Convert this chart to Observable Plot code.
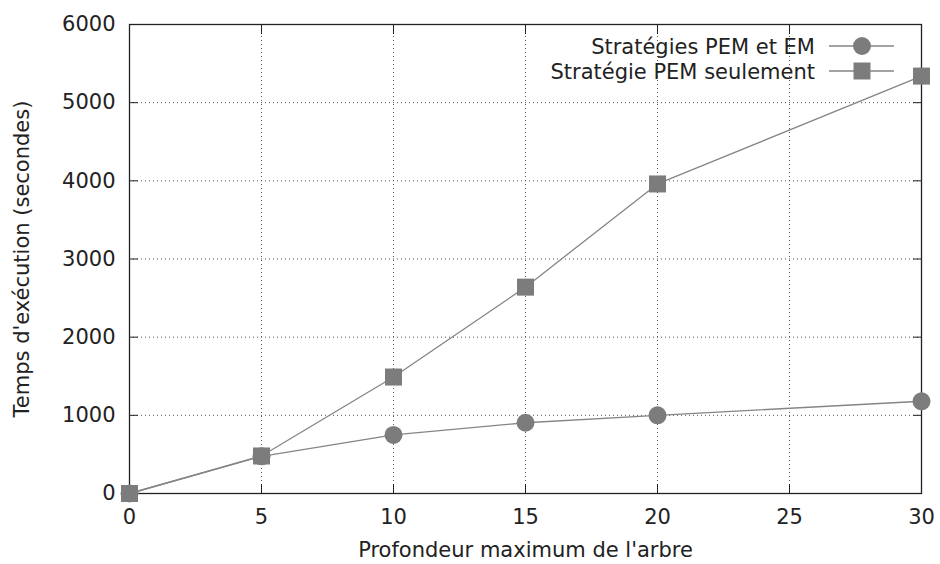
<!DOCTYPE html>
<html>
<head>
<meta charset="utf-8">
<script src="https://cdn.jsdelivr.net/npm/d3@7"></script>
<script src="https://cdn.jsdelivr.net/npm/@observablehq/plot@0.6"></script>
<style>
  body { margin: 0; background: #fff; }
  #chart svg { display: block; }
</style>
</head>
<body>
<div id="chart"></div>
<script>
// ---- Data ----
const depth = [0, 5, 10, 15, 20, 30];
const pemEm = [0, 475, 750, 905, 1000, 1180];
const pemOnly = [0, 480, 1490, 2640, 3960, 5340];
const seriesNames = ["Stratégies PEM et EM", "Stratégie PEM seulement"];
const seriesSymbols = ["circle", "square"];
const xTicks = [0, 5, 10, 15, 20, 25, 30];
const yTicks = [0, 1000, 2000, 3000, 4000, 5000, 6000];
const xLabel = "Profondeur maximum de l'arbre";
const yLabel = "Temps d'exécution (secondes)";

// ---- Build table ----
const rows = [];
depth.forEach((d, i) => rows.push({ depth: d, time: pemEm[i], series: seriesNames[0] }));
depth.forEach((d, i) => rows.push({ depth: d, time: pemOnly[i], series: seriesNames[1] }));
const rowsA = rows.filter(r => r.series === seriesNames[0]);
const rowsB = rows.filter(r => r.series === seriesNames[1]);

const lineColor = "#858585";
const markColor = "#7c7c7c";
const textColor = "#222";
const fontSize = 21;

// Legend as a custom render mark (pixel layout inside the frame, top-right)
function legendMark(index, scales, values, dims) {
  const g = d3.create("svg:g")
    .attr("font-family", "'DejaVu Sans', sans-serif")
    .attr("font-size", fontSize)
    .attr("fill", textColor);
  const right = dims.width - dims.marginRight;
  const top = dims.marginTop;
  seriesNames.forEach((name, i) => {
    const y = top + 22 + i * 25;
    g.append("text")
      .attr("x", right - 106).attr("y", y).attr("dy", "0.36em")
      .attr("text-anchor", "end").text(name);
    g.append("line")
      .attr("x1", right - 92).attr("x2", right - 27)
      .attr("y1", y).attr("y2", y)
      .attr("stroke", lineColor).attr("stroke-width", 1.3);
    const sym = d3.symbol(seriesSymbols[i] === "circle" ? d3.symbolCircle : d3.symbolSquare,
      seriesSymbols[i] === "circle" ? Math.PI * 9 * 9 : 17 * 17)();
    g.append("path").attr("d", sym)
      .attr("transform", `translate(${right - 59},${y})`)
      .attr("fill", markColor);
  });
  return g.node();
}

const fmt = d => String(d);

const chart = Plot.plot({
  width: 940,
  height: 564,
  marginLeft: 129,
  marginRight: 19,
  marginTop: 24,
  marginBottom: 71,
  style: { fontFamily: "'DejaVu Sans', sans-serif", fontSize: fontSize + "px", color: textColor, background: "#fff" },
  x: { domain: [0, 30], ticks: xTicks },
  y: { domain: [0, 6000], ticks: yTicks },
  marks: [
    Plot.gridX(xTicks, { stroke: "#555", strokeOpacity: 1, strokeDasharray: "1,3", strokeWidth: 1 }),
    Plot.gridY(yTicks, { stroke: "#555", strokeOpacity: 1, strokeDasharray: "1,3", strokeWidth: 1 }),
    // tick labels
    Plot.axisX(xTicks, { anchor: "bottom", tickSize: 0, tickPadding: 16, label: null, fill: textColor, tickFormat: fmt }),
    Plot.axisY(yTicks, { anchor: "left", tickSize: 0, tickPadding: 14, label: null, fill: textColor, tickFormat: fmt }),
    // inward ticks on all four sides
    Plot.axisX(xTicks, { anchor: "bottom", tickSize: 9, text: null, label: null, dy: -9, stroke: "#222" }),
    Plot.axisX(xTicks, { anchor: "top", tickSize: 9, text: null, label: null, dy: 9, stroke: "#222" }),
    Plot.axisY(yTicks, { anchor: "left", tickSize: 9, text: null, label: null, dx: 9, stroke: "#222" }),
    Plot.axisY(yTicks, { anchor: "right", tickSize: 9, text: null, label: null, dx: -9, stroke: "#222" }),
    Plot.frame({ stroke: "#222", strokeWidth: 1.3 }),
    // axis titles
    Plot.text([xLabel], { frameAnchor: "bottom", lineAnchor: "middle", dy: 57, fill: textColor }),
    Plot.text([yLabel], { frameAnchor: "left", textAnchor: "middle", lineAnchor: "middle", dx: -107, rotate: -90, fill: textColor }),
    // series lines
    Plot.line(rowsA, { x: "depth", y: "time", stroke: lineColor, strokeWidth: 1.3 }),
    Plot.line(rowsB, { x: "depth", y: "time", stroke: lineColor, strokeWidth: 1.3 }),
    // markers
    Plot.dot(rowsA, { x: "depth", y: "time", symbol: "circle", r: 9, fill: markColor }),
    Plot.dot(rowsB, { x: "depth", y: "time", symbol: "square", r: 9.6, fill: markColor }),
    legendMark
  ]
});
document.getElementById("chart").appendChild(chart);
</script>
</body>
</html>
